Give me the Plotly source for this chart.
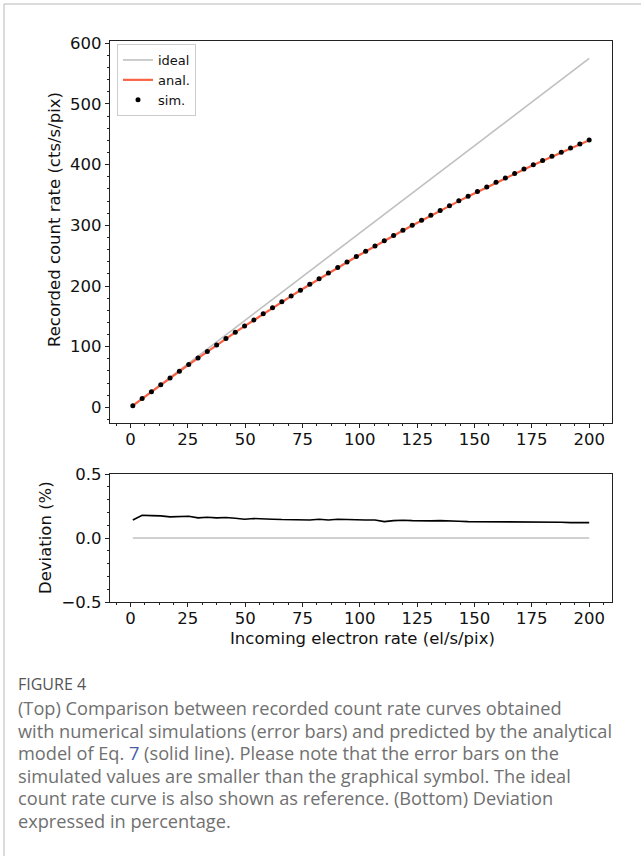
import plotly.graph_objects as go

# ---------------- data ----------------
rate_in = [1.00, 5.06, 9.12, 13.18, 17.24, 21.31, 25.37, 29.43, 33.49, 37.55,
           41.61, 45.67, 49.73, 53.80, 57.86, 61.92, 65.98, 70.04, 74.10, 78.16,
           82.22, 86.29, 90.35, 94.41, 98.47, 102.53, 106.59, 110.65, 114.71, 118.78,
           122.84, 126.90, 130.96, 135.02, 139.08, 143.14, 147.20, 151.27, 155.33, 159.39,
           163.45, 167.51, 171.57, 175.63, 179.69, 183.76, 187.82, 191.88, 195.94, 200.00]

anal_rate = [2.871, 14.453, 25.909, 37.241, 48.449, 59.535, 70.499, 81.343, 92.067, 102.673,
             113.161, 123.533, 133.789, 143.931, 153.958, 163.873, 173.676, 183.368, 192.950, 202.422,
             211.787, 221.044, 230.195, 239.240, 248.181, 257.017, 265.751, 274.382, 282.912, 291.342,
             299.672, 307.904, 316.037, 324.074, 332.014, 339.859, 347.609, 355.266, 362.829, 370.299,
             377.679, 384.967, 392.166, 399.275, 406.295, 413.228, 420.075, 426.834, 433.508, 440.099]

sim_rate = [2.875, 14.479, 25.954, 37.305, 48.529, 59.636, 70.619, 81.471, 92.216, 102.834,
            113.342, 123.723, 133.986, 144.150, 154.184, 164.114, 173.926, 183.632, 193.228, 202.707,
            212.098, 221.356, 230.533, 239.585, 248.538, 257.379, 266.126, 274.733, 283.297, 291.747,
            300.080, 308.317, 316.460, 324.515, 332.449, 340.304, 348.054, 355.721, 363.293, 370.773,
            378.162, 385.452, 392.648, 399.778, 406.807, 413.736, 420.592, 427.346, 434.037, 440.627]

sim_err = 0.4  # error bars are smaller than the symbol

deviation = [0.141, 0.178, 0.175, 0.173, 0.165, 0.170, 0.170, 0.157, 0.162, 0.157,
             0.160, 0.154, 0.147, 0.152, 0.147, 0.147, 0.144, 0.144, 0.144, 0.141,
             0.147, 0.141, 0.147, 0.144, 0.144, 0.141, 0.141, 0.128, 0.136, 0.139,
             0.136, 0.134, 0.134, 0.136, 0.131, 0.131, 0.128, 0.128, 0.128, 0.128,
             0.128, 0.126, 0.123, 0.126, 0.126, 0.123, 0.123, 0.120, 0.122, 0.120]

ideal_x = [1.0, 200.0]
ideal_y = [2.875, 575.0]
zero_y = [0.0, 0.0]

x_ticks = [0, 25, 50, 75, 100, 125, 150, 175, 200]
top_y_ticks = [0, 100, 200, 300, 400, 500, 600]
bot_y_ticks = [-0.5, 0.0, 0.5]

caption_head = "FIGURE 4"
caption_lines = [
    "(Top) Comparison between recorded count rate curves obtained",
    "with numerical simulations (error bars) and predicted by the analytical",
    "model of Eq. <span style='color:#4a5ca6'>7</span> (solid line). Please note that the error bars on the",
    "simulated values are smaller than the graphical symbol. The ideal",
    "count rate curve is also shown as reference. (Bottom) Deviation",
    "expressed in percentage.",
]

# ---------------- figure ----------------
W, H = 641, 856
FONT = "DejaVu Sans"
FS = 16.5
AX = "#222222"

def px_x(p):
    return p / W

def px_y(p):
    return 1 - p / H

fig = go.Figure()

fig.add_trace(go.Scatter(x=ideal_x, y=ideal_y, mode="lines", name="ideal",
                         line=dict(color="#c0c0c0", width=1.6), xaxis="x", yaxis="y"))
fig.add_trace(go.Scatter(x=rate_in, y=anal_rate, mode="lines", name="anal.",
                         line=dict(color="#fa6244", width=2.2), xaxis="x", yaxis="y"))
fig.add_trace(go.Scatter(x=rate_in, y=sim_rate, mode="markers", name="sim.",
                         marker=dict(color="black", size=5),
                         error_y=dict(type="constant", value=sim_err, color="black",
                                      thickness=1, width=0),
                         xaxis="x", yaxis="y"))

fig.add_trace(go.Scatter(x=ideal_x, y=zero_y, mode="lines", showlegend=False,
                         line=dict(color="#c0c0c0", width=1.6), xaxis="x2", yaxis="y2"))
fig.add_trace(go.Scatter(x=rate_in, y=deviation, mode="lines", showlegend=False,
                         line=dict(color="black", width=1.6), xaxis="x2", yaxis="y2"))

x_dom = [px_x(110), px_x(612)]
x_range = [-8.95, 209.95]

common_axis = dict(showgrid=False, zeroline=False, showline=True, linecolor=AX,
                   linewidth=1.2, mirror=True, ticks="outside", ticklen=4,
                   tickwidth=1, tickcolor=AX, automargin=False,
                   tickfont=dict(family=FONT, size=FS, color="#111111"))

fig.update_layout(
    width=W, height=H,
    margin=dict(l=0, r=0, t=0, b=0),
    paper_bgcolor="white", plot_bgcolor="white",
    showlegend=True,
    legend=dict(x=px_x(117), y=px_y(44), xanchor="left", yanchor="top",
                bgcolor="rgba(255,255,255,0.9)", bordercolor="#cccccc", borderwidth=1,
                font=dict(family=FONT, size=13, color="#111111"),
                itemwidth=30, tracegroupgap=0),
    xaxis=dict(domain=x_dom, range=x_range, anchor="y", tickvals=x_ticks,
               ticklabelstandoff=-3,
               minor=dict(dtick=6.25, tick0=0, ticklen=2, ticks="outside", tickcolor=AX),
               **common_axis),
    yaxis=dict(domain=[px_y(423), px_y(41)], range=[-25.7, 603.7], anchor="x",
               tickvals=top_y_ticks,
               minor=dict(dtick=20, tick0=0, ticklen=2, ticks="outside", tickcolor=AX),
               **common_axis),
    xaxis2=dict(domain=x_dom, range=x_range, anchor="y2", tickvals=x_ticks,
                ticklabelstandoff=-3,
                minor=dict(dtick=6.25, tick0=0, ticklen=2, ticks="outside", tickcolor=AX),
                **common_axis),
    yaxis2=dict(domain=[px_y(602), px_y(474)], range=[-0.5, 0.5], anchor="x2",
                tickvals=bot_y_ticks, tickformat=".1f",
                minor=dict(dtick=0.1, tick0=0, ticklen=2, ticks="outside", tickcolor=AX),
                **common_axis),
)

annotations = [
    dict(text="Recorded count rate (cts/s/pix)", x=px_x(55), y=px_y(220), textangle=-90,
         font=dict(family=FONT, size=FS, color="#111111")),
    dict(text="Deviation (%)", x=px_x(45), y=px_y(538), textangle=-90,
         font=dict(family=FONT, size=FS, color="#111111")),
    dict(text="Incoming electron rate (el/s/pix)", x=px_x(362), y=px_y(638),
         font=dict(family=FONT, size=FS, color="#111111")),
    dict(text=caption_head, x=px_x(16), y=px_y(684), xanchor="left",
         font=dict(family="Open Sans", size=16, color="#555555")),
]
caption_y = [708, 731, 753, 776, 798, 821]
for line, yy in zip(caption_lines, caption_y):
    annotations.append(dict(text=line, x=px_x(16), y=px_y(yy), xanchor="left",
                            font=dict(family="Open Sans", size=18.2, color="#707070")))
for a in annotations:
    a.update(xref="paper", yref="paper", showarrow=False)
    a.setdefault("xanchor", "center")
    a.setdefault("yanchor", "middle")
fig.update_layout(annotations=annotations)

fig.update_layout(shapes=[
    dict(type="line", xref="paper", yref="paper", x0=px_x(4), x1=1, y0=px_y(4), y1=px_y(4),
         line=dict(color="#cfcfcf", width=1.5)),
    dict(type="line", xref="paper", yref="paper", x0=px_x(4), x1=px_x(4), y0=0, y1=px_y(4),
         line=dict(color="#cfcfcf", width=1.5)),
])

fig.write_html("out.html")
